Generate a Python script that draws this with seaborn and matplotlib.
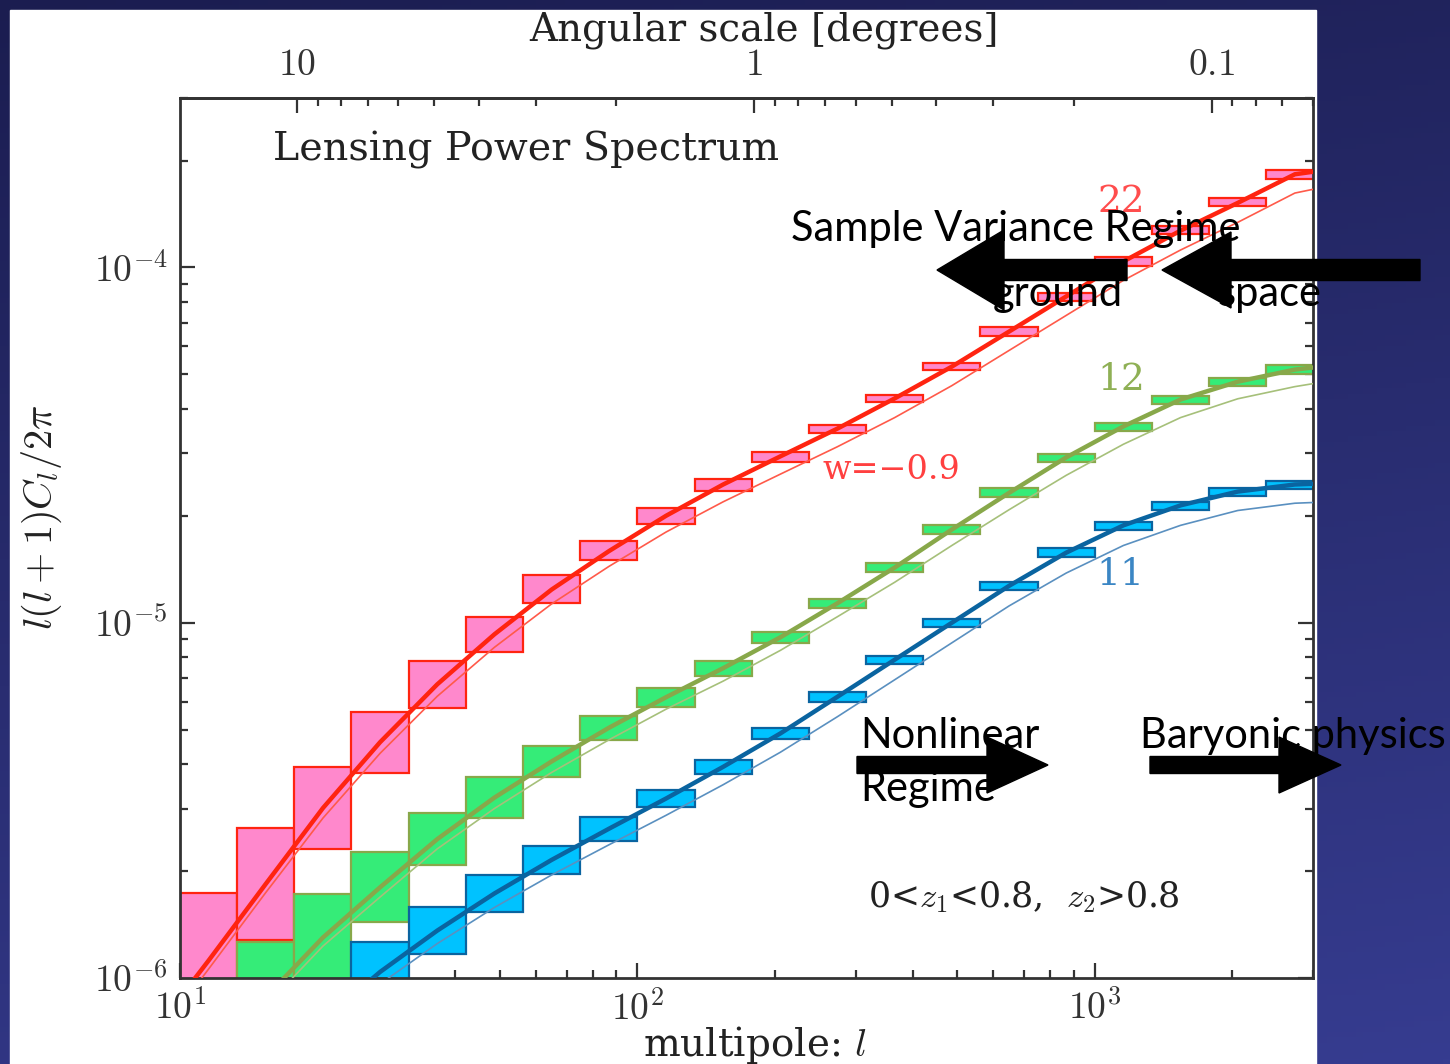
import numpy as np
import pandas as pd
import seaborn as sns
import matplotlib.pyplot as plt
from matplotlib.patches import Rectangle, Polygon
from matplotlib.ticker import NullFormatter, FixedLocator

# ---------------- data (C_l values in units of 1e-6) ----------------
# multipole bins, 8 per decade
l_edges = [10.0, 13.34, 17.78, 23.71, 31.62, 42.17, 56.23, 74.99, 100.0, 133.4, 177.8,
           237.1, 316.2, 421.7, 562.3, 749.9, 1000.0, 1334.0, 1778.0, 2371.0, 3162.0]
l_mid = [11.55, 15.40, 20.54, 27.38, 36.52, 48.70, 64.94, 86.60, 115.5, 154.0,
         205.4, 273.8, 365.2, 487.0, 649.4, 866.0, 1155.0, 1540.0, 2054.0, 2738.0]

# bin 22 (red), all bins
red_hi = [1.74, 2.65, 3.93, 5.62, 7.82, 10.4, 13.6, 17.0, 21.1, 25.4,
          30.3, 36.1, 43.9, 54.0, 67.8, 85.0, 107, 131, 157, 188]
red_lo = [0.72, 1.28, 2.31, 3.78, 5.76, 8.29, 11.4, 15.0, 19.0, 23.5,
          28.4, 34.3, 41.7, 51.3, 64.3, 80.7, 101, 124, 149, 178]
red_l = [10.0] + l_mid + [3000.0]
red_fid = [0.88, 1.12, 1.84, 3.01, 4.61, 6.71, 9.28, 12.4, 15.9, 20.0, 24.5,
           29.4, 35.2, 42.8, 52.6, 66.0, 82.9, 104, 127, 152, 183, 186]
red_w09 = [0.83, 1.06, 1.74, 2.82, 4.29, 6.21, 8.53, 11.3, 14.4, 18.0, 21.9,
           26.2, 31.3, 37.8, 46.5, 58.4, 73.3, 92.0, 112, 134, 162, 166]

# bin 12 (green), from bin 1
green_hi = [1.26, 1.72, 2.26, 2.92, 3.68, 4.50, 5.47, 6.56, 7.82, 9.43,
            11.7, 14.7, 18.8, 23.9, 29.9, 36.6, 43.6, 49.0, 53.0]
green_lo = [0.62, 0.97, 1.44, 2.08, 2.82, 3.68, 4.68, 5.80, 7.09, 8.79,
            11.0, 13.9, 17.8, 22.6, 28.4, 34.7, 41.4, 46.5, 50.3]
green_l = [13.34] + l_mid[1:] + [3000.0]
green_fid = [0.72, 0.884, 1.30, 1.80, 2.46, 3.22, 4.07, 5.06, 6.17, 7.45, 9.10,
             11.35, 14.3, 18.3, 23.2, 29.2, 35.7, 42.5, 47.7, 51.6, 52.3]
green_w09 = [0.68, 0.834, 1.23, 1.69, 2.31, 3.00, 3.79, 4.68, 5.71, 6.85, 8.36,
             10.4, 13.0, 16.5, 20.8, 26.0, 31.8, 37.8, 42.7, 46.2, 47.1]

# bin 11 (blue), from bin 3
blue_hi = [1.26, 1.585, 1.95, 2.35, 2.84, 3.39, 4.11, 5.06, 6.39, 8.07,
           10.27, 13.05, 16.2, 19.25, 21.9, 24.0, 25.1]
blue_lo = [0.86, 1.17, 1.53, 1.96, 2.43, 3.03, 3.755, 4.71, 5.99, 7.66,
           9.75, 12.4, 15.35, 18.3, 20.8, 22.8, 23.85]
blue_l = [20.54] + l_mid[3:] + [3000.0]
blue_fid = [0.76, 1.04, 1.36, 1.73, 2.15, 2.63, 3.20, 3.93, 4.88, 6.19, 7.87,
            10.0, 12.7, 15.75, 18.8, 21.4, 23.4, 24.5, 24.6]
blue_w09 = [0.70, 0.962, 1.25, 1.58, 1.95, 2.37, 2.87, 3.50, 4.32, 5.44, 6.91,
            8.78, 11.15, 13.8, 16.5, 18.8, 20.7, 21.7, 21.8]

series = [
    # first bin, hi, lo, l, fid, w09, fill, line colour, thin colour
    (0, red_hi, red_lo, red_l, red_fid, red_w09, '#ff88cc', '#ff2410', '#ff5a4a'),
    (1, green_hi, green_lo, green_l, green_fid, green_w09, '#35ec78', '#88a84a', '#a6c07a'),
    (3, blue_hi, blue_lo, blue_l, blue_fid, blue_w09, '#00c2ff', '#0a64a0', '#5a90c0'),
]

sns.set_style("ticks")
plt.rcParams['font.family'] = ['DejaVu Serif']
plt.rcParams['mathtext.fontset'] = 'cm'

W, H = 1450, 1064
fig = plt.figure(figsize=(W / 100, H / 100), dpi=100)


def P(x, y):
    # pixel position -> figure fraction
    return (x / W, 1 - y / H)


# slide background: blue gradient and white panel
bg = fig.add_axes([0, 0, 1, 1], zorder=-5)
yy, xx = np.mgrid[0:1:200j, 0:1:200j]
t = 0.8 * yy + 0.2 * xx
top = np.array([27, 29, 80]) / 255
bot = np.array([54, 60, 144]) / 255
img = top[None, None, :] * (1 - t[..., None]) + bot[None, None, :] * t[..., None]
bg.imshow(img, extent=[0, 1, 0, 1], aspect='auto', origin='upper')
bg.add_patch(Rectangle((10 / W, 0), 1306 / W, 1054 / H, color='white', transform=bg.transAxes))
bg.set_xlim(0, 1)
bg.set_ylim(0, 1)
bg.axis('off')

ax = fig.add_axes([180 / W, 1 - 978 / H, (1313 - 180) / W, (978 - 98) / H], zorder=1)
ax.set_facecolor('white')
ax.set_xscale('log')
ax.set_yscale('log')

for first, hi, lo, ll, fid, w09, fill, lc, tc in series:
    left = l_edges[first:-1]
    width = np.array(l_edges[first + 1:]) - np.array(left)
    lo_v = np.array(lo) * 1e-6
    hi_v = np.array(hi) * 1e-6
    ax.bar(left, hi_v - lo_v, width=width, bottom=lo_v, align='edge',
           color=fill, edgecolor=lc, linewidth=1.6, zorder=2)
    df_w = pd.DataFrame({'l': ll, 'cl': np.array(w09) * 1e-6})
    df_f = pd.DataFrame({'l': ll, 'cl': np.array(fid) * 1e-6})
    sns.lineplot(data=df_w, x='l', y='cl', ax=ax, color=tc, lw=1.2,
                 sort=False, estimator=None, legend=False, zorder=3)
    sns.lineplot(data=df_f, x='l', y='cl', ax=ax, color=lc, lw=3.2,
                 sort=False, estimator=None, legend=False, zorder=4)

ax.set_xlim(10, 3000)
ax.set_ylim(1e-6, 3.0e-4)
ax.xaxis.set_major_locator(FixedLocator([10, 100, 1000]))
ax.set_xticklabels([r'$10^1$', r'$10^2$', r'$10^3$'])
ax.yaxis.set_major_locator(FixedLocator([1e-6, 1e-5, 1e-4]))
ax.set_yticklabels([r'$10^{-6}$', r'$10^{-5}$', r'$10^{-4}$'])
ax.xaxis.set_minor_formatter(NullFormatter())
ax.yaxis.set_minor_formatter(NullFormatter())
ax.tick_params(which='both', direction='in', top=False, right=True, width=1.6, colors='#333333')
ax.tick_params(which='major', length=11, labelsize=27, pad=9)
ax.tick_params(which='minor', length=6)
ax.set_xlabel('')
ax.set_ylabel('')
for s in ax.spines.values():
    s.set_linewidth(2)
    s.set_color('#333333')


def to_deg(x):
    x = np.asarray(x, dtype=float)
    with np.errstate(divide='ignore'):
        return 180.0 / x


sec = ax.secondary_xaxis('top', functions=(to_deg, to_deg))
sec.xaxis.set_major_locator(FixedLocator([10, 1, 0.1]))
sec.set_xticklabels([r'$10$', r'$1$', r'$0.1$'])
sec.xaxis.set_minor_formatter(NullFormatter())
sec.tick_params(which='both', direction='in', width=1.6, colors='#333333')
sec.tick_params(which='major', length=11, labelsize=27, pad=11)
sec.tick_params(which='minor', length=6)
sec.spines['top'].set_linewidth(2)
sec.spines['top'].set_color('#333333')

# annotations inside the plot
ax.text(0.082, 0.941, 'Lensing Power Spectrum', transform=ax.transAxes,
        fontsize=28.5, color='#222222', va='center', ha='left')
ax.text(0.831, 0.882, '22', transform=ax.transAxes, fontsize=27, color='#ff4d4d', ha='center', va='center')
ax.text(0.831, 0.6795, '12', transform=ax.transAxes, fontsize=27, color='#8fb055', ha='center', va='center')
ax.text(0.830, 0.458, '11', transform=ax.transAxes, fontsize=27, color='#3b86c4', ha='center', va='center')
ax.text(0.6275, 0.577, 'w=\u22120.9', transform=ax.transAxes, fontsize=24, color='#ff4040',
        ha='center', va='center')
ax.text(0.745, 0.092, r'0<$z_1$<0.8,  $z_2$>0.8', transform=ax.transAxes, fontsize=25,
        color='#222222', ha='center', va='center')

# axis titles
fig.text(*P(764, 30), 'Angular scale [degrees]', fontsize=28, color='#222222', ha='center', va='center')
fig.text(*P(755, 1045), r'multipole: $l$', fontsize=28, color='#222222', ha='center', va='center')
fig.text(*P(42, 517), r'$l(l+1)C_l/2\pi$', fontsize=29, color='#222222', ha='center', va='center',
         rotation=90)


def block_arrow(tip_x, tail_x, y, head_len, head_half, shaft_half):
    d = 1 if tail_x > tip_x else -1
    bx = tip_x + d * head_len
    pts = [(tip_x, y), (bx, y - head_half), (bx, y - shaft_half), (tail_x, y - shaft_half),
           (tail_x, y + shaft_half), (bx, y + shaft_half), (bx, y + head_half)]
    fig.add_artist(Polygon([P(px, py) for px, py in pts], closed=True, color='black',
                           transform=fig.transFigure, zorder=20))


block_arrow(937, 1127, 270, 67, 40, 10.5)
block_arrow(1162, 1420, 270, 69, 38, 10.5)
block_arrow(1048, 857, 765, 61, 28, 8.5)
block_arrow(1341, 1150, 765, 62, 28, 8.5)

slide_font = dict(family=['Lato', 'DejaVu Sans'], fontsize=30, color='black', zorder=21, va='baseline')
fig.text(*P(791, 241), 'Sample Variance Regime', **slide_font)
fig.text(*P(993, 306), 'ground', **slide_font)
fig.text(*P(1218, 306), 'space', **slide_font)
fig.text(*P(860, 748), 'Nonlinear', **slide_font)
fig.text(*P(860, 801), 'Regime', **slide_font)
fig.text(*P(1140, 748), 'Baryonic physics', **slide_font)

plt.savefig('out.png', dpi=100)
